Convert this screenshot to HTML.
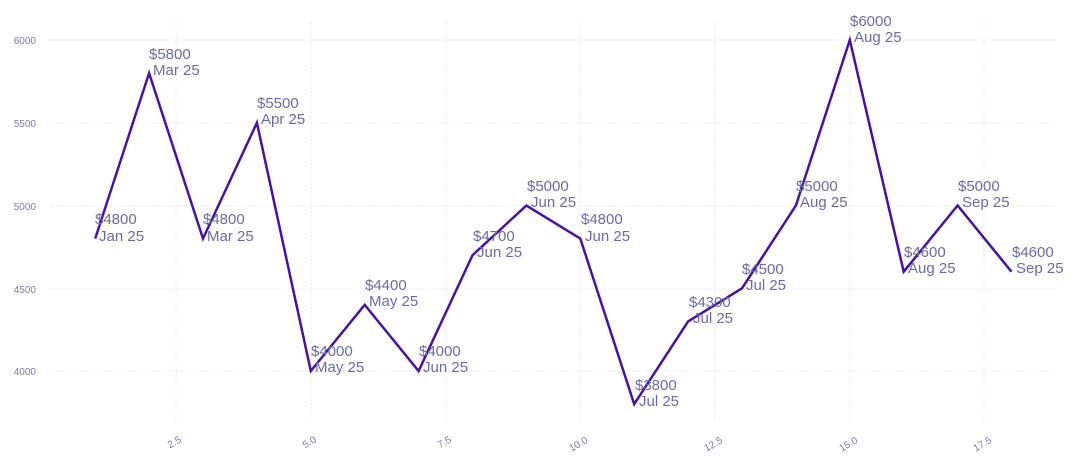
<!DOCTYPE html>
<html><head><meta charset="utf-8"><style>
html,body{margin:0;padding:0;background:#fff;}
svg{display:block;font-family:"Liberation Sans",sans-serif;}
.g{stroke:#ebebfb;stroke-width:1;stroke-dasharray:2,1;}
.yt{font-size:10px;fill:#7a7aa8;text-anchor:end;}
.xt{font-size:10px;fill:#7a7aa8;text-anchor:middle;}
.lb{font-size:15px;fill:#6a6aaa;}
</style></head><body>
<svg width="1076" height="467" viewBox="0 0 1076 467">
<g class="g">
<line x1="50" y1="40" x2="1056" y2="40"/>
<line x1="50" y1="123" x2="1056" y2="123"/>
<line x1="50" y1="206" x2="1056" y2="206"/>
<line x1="50" y1="289" x2="1056" y2="289"/>
<line x1="50" y1="371" x2="1056" y2="371"/>
<line x1="176" y1="22" x2="176" y2="421"/>
<line x1="311" y1="22" x2="311" y2="421"/>
<line x1="446" y1="22" x2="446" y2="421"/>
<line x1="580" y1="22" x2="580" y2="421"/>
<line x1="715" y1="22" x2="715" y2="421"/>
<line x1="850" y1="22" x2="850" y2="421"/>
<line x1="984" y1="22" x2="984" y2="421"/>
</g>
<text class="yt" x="36" y="44">6000</text>
<text class="yt" x="36" y="127">5500</text>
<text class="yt" x="36" y="210">5000</text>
<text class="yt" x="36" y="293">4500</text>
<text class="yt" x="36" y="375">4000</text>
<text class="xt" transform="translate(176,445) rotate(-30)">2.5</text>
<text class="xt" transform="translate(311,445) rotate(-30)">5.0</text>
<text class="xt" transform="translate(446,445) rotate(-30)">7.5</text>
<text class="xt" transform="translate(580,447) rotate(-30)">10.0</text>
<text class="xt" transform="translate(715,447) rotate(-30)">12.5</text>
<text class="xt" transform="translate(850,447) rotate(-30)">15.0</text>
<text class="xt" transform="translate(984,447) rotate(-30)">17.5</text>
<polyline fill="none" stroke="#4a0fa8" stroke-width="2.5" stroke-linejoin="miter" points="95.2,238.6 149.1,73.1 203,238.6 256.9,122.8 310.8,371 364.7,304.8 418.6,371 472.5,255.2 526.4,205.5 580.3,238.6 634.2,404.1 688.1,321.4 742,288.3 795.9,205.5 849.8,40 903.7,271.7 957.6,205.5 1011.5,271.7"/>
<g class="lb">
<text x="95" y="224">$4800</text><text x="99" y="241">Jan 25</text>
<text x="149" y="59">$5800</text><text x="153" y="75">Mar 25</text>
<text x="203" y="224">$4800</text><text x="207" y="241">Mar 25</text>
<text x="257" y="108">$5500</text><text x="261" y="124">Apr 25</text>
<text x="311" y="356">$4000</text><text x="315" y="372">May 25</text>
<text x="365" y="290">$4400</text><text x="369" y="306">May 25</text>
<text x="419" y="356">$4000</text><text x="423" y="372">Jun 25</text>
<text x="473" y="241">$4700</text><text x="477" y="257">Jun 25</text>
<text x="527" y="191">$5000</text><text x="531" y="207">Jun 25</text>
<text x="581" y="224">$4800</text><text x="585" y="241">Jun 25</text>
<text x="635" y="390">$3800</text><text x="639" y="406">Jul 25</text>
<text x="689" y="307">$4300</text><text x="693" y="323">Jul 25</text>
<text x="742" y="274">$4500</text><text x="746" y="290">Jul 25</text>
<text x="796" y="191">$5000</text><text x="800" y="207">Aug 25</text>
<text x="850" y="26">$6000</text><text x="854" y="42">Aug 25</text>
<text x="904" y="257">$4600</text><text x="908" y="273">Aug 25</text>
<text x="958" y="191">$5000</text><text x="962" y="207">Sep 25</text>
<text x="1012" y="257">$4600</text><text x="1016" y="273">Sep 25</text>
</g>
</svg>
</body></html>
